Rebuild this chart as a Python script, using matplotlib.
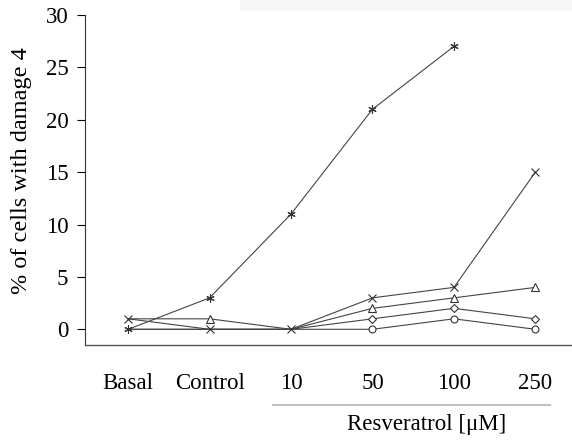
import matplotlib
matplotlib.use("Agg")
from matplotlib import pyplot as plt
from matplotlib.patches import Rectangle

plt.rcParams["font.family"] = ["Liberation Serif", "DejaVu Serif"]

categories = ["Basal", "Control", "10", "50", "100", "250"]

# % of cells with damage 4, one list per series (None = no point)
star_vals = [0, 3, 11, 21, 27, None]
cross_vals = [1, 0, 0, 3, 4, 15]
triangle_vals = [1, 1, 0, 2, 3, 4]
diamond_vals = [0, 0, 0, 1, 2, 1]
circle_vals = [0, 0, 0, 0, 1, 0]

fig = plt.figure(figsize=(5.72, 4.43), dpi=100)
ax = fig.add_axes([0.1486, 0.2212, 0.8514, 0.745])

x = list(range(len(categories)))

def draw(vals, marker, ms, every):
    xs = [i for i, v in zip(x, vals) if v is not None]
    ys = [v for v in vals if v is not None]
    ax.plot(xs, ys, color="#444444", lw=0.8, marker=marker, ms=ms,
            mfc="white", mec="#333333", mew=0.8, markevery=every)

# overlapping markers are hidden, as in the original
draw(circle_vals, "o", 5, [3, 4, 5])
draw(diamond_vals, "D", 4.2, [3, 4, 5])
draw(triangle_vals, "^", 5.5, [1, 3, 4, 5])
draw(cross_vals, "x", 5.5, [0, 1, 2, 3, 4, 5])
draw(star_vals, (6, 2, 0), 6, [0, 1, 2, 3, 4])

ax.set_xlim(-0.53, 5.45)
ax.set_ylim(-1.5, 30)
ax.set_yticks([0, 5, 10, 15, 20, 25, 30])
ax.set_xticks(x)
ax.set_xticklabels(categories)
ax.tick_params(axis="x", length=0, pad=20, labelsize=16.5)
ax.tick_params(axis="y", length=6, width=0.8, pad=6, labelsize=16.5)

for s in ["top", "right"]:
    ax.spines[s].set_visible(False)
ax.spines["left"].set_color("#333333")
ax.spines["bottom"].set_color("#555555")
ax.spines["left"].set_linewidth(0.8)
ax.spines["bottom"].set_linewidth(1.0)

ax.set_ylabel("% of cells with damage 4", fontsize=17.5)
ax.yaxis.set_label_coords(-0.109, 0.529)

# bracket under the resveratrol doses
tr = ax.get_xaxis_transform()
ax.plot([1.78, 5.18], [-0.182, -0.182], transform=tr, color="#c0c0c0",
        lw=1.5, clip_on=False)
ax.text(3.66, -0.24, "Resveratrol [μM]", transform=tr, ha="center",
        va="center", fontsize=16.5)

# faint cropped band at the top
fig.patches.append(Rectangle((0.42, 0.977), 0.58, 0.023, transform=fig.transFigure,
                             color="#f6f6f6", zorder=0))

fig.savefig("out.png", dpi=100)
